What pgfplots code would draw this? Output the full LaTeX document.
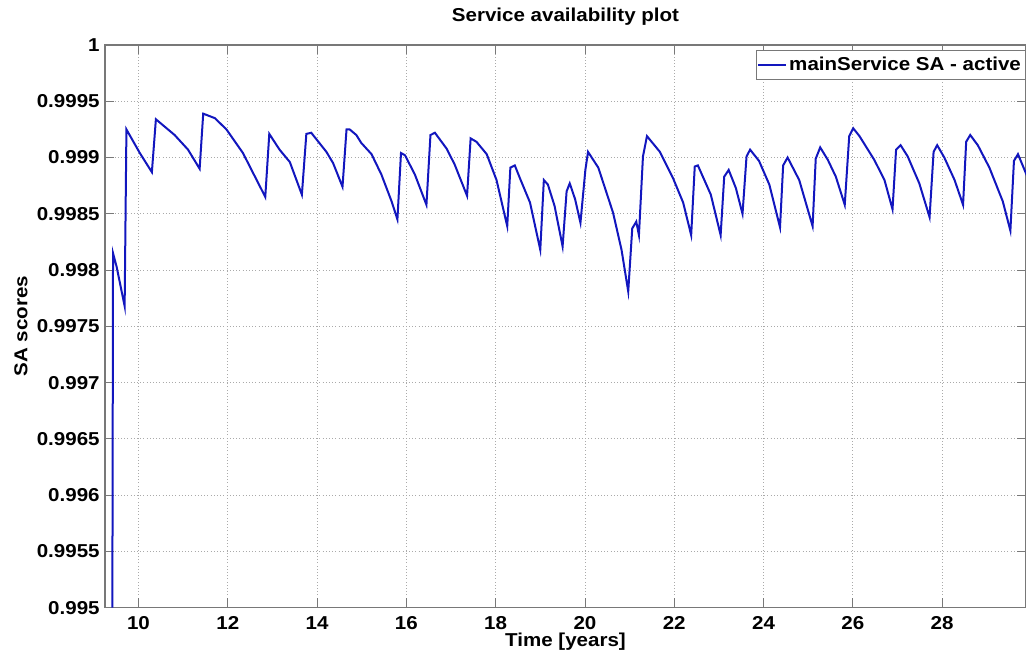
\documentclass[border=0pt]{standalone}
\usepackage{fontspec}
\setmainfont{Liberation Sans}[FakeStretch=1.1]
\usepackage{pgfplots}
\pgfplotsset{compat=1.18}
\definecolor{saBlue}{RGB}{18,22,190}
\definecolor{axGray}{RGB}{120,120,120}
\definecolor{gridGray}{RGB}{170,170,170}
\newcommand{\lblfont}{\fontsize{14}{17}\selectfont\bfseries}
\begin{document}
\begin{tikzpicture}
\begin{axis}[
  scale only axis,
  width=690.75pt, height=422pt,
  xmin=9.25, xmax=29.88,
  ymin=0.995, ymax=1,
  xtick={10,12,...,28},
  ytick={0.995,0.9955,0.996,0.9965,0.997,0.9975,0.998,0.9985,0.999,0.9995,1},
  yticklabels={0.995,0.9955,0.996,0.9965,0.997,0.9975,0.998,0.9985,0.999,0.9995,1},
  /pgf/number format/assume math mode=true,
  tick align=inside,
  major tick length=7pt,
  tick style={axGray, line width=0.6pt},
  axis line style={axGray, line width=0.8pt},
  grid=major,
  major grid style={gridGray, dotted, line width=0.6pt},
  font=\lblfont,
  ticklabel style={font=\lblfont},
  xticklabel style={yshift=-3pt},
  yticklabel style={xshift=-0.5pt},
  title={Service availability plot},
  title style={at={(0.5,1)}, anchor=base, yshift=11.5pt},
  xlabel={Time [years]},
  xlabel style={at={(0.5,0)}, anchor=base, yshift=-29pt},
  ylabel={SA scores},
  ylabel style={at={(0,0.5)}, anchor=center, yshift=63pt},
  legend style={at={(1,1)}, anchor=north east, xshift=-0.5pt, yshift=-3.75pt,
    draw=axGray, line width=0.6pt, inner xsep=1pt, inner ysep=3pt,
    font=\lblfont},
  legend cell align=left,
  legend image code/.code={\draw[#1] (0cm,0cm) -- (0.72cm,0cm);},
]
\addplot[saBlue, line width=1.5pt] coordinates {
(9.415,0.9950)(9.43,0.99815)(9.51,0.99803)(9.69,0.99768)(9.73,0.99925)
(10.03,0.99904)(10.30,0.99887)(10.39,0.99934)(10.81,0.99920)(11.11,0.99907)
(11.37,0.99890)(11.45,0.99939)(11.71,0.99935)(11.97,0.99925)(12.34,0.99904)
(12.84,0.99865)(12.93,0.99921)(13.16,0.99907)(13.39,0.99896)(13.66,0.99867)
(13.76,0.99921)(13.87,0.99922)(14.21,0.99905)(14.36,0.99895)(14.57,0.99874)
(14.66,0.99925)(14.73,0.99925)(14.88,0.99920)(14.99,0.99913)(15.22,0.99903)
(15.44,0.99885)(15.67,0.99861)(15.80,0.99845)(15.88,0.99904)(15.97,0.99902)
(16.19,0.99885)(16.45,0.99858)(16.54,0.99920)(16.64,0.99922)(16.90,0.99908)
(17.08,0.99894)(17.36,0.99866)(17.44,0.99917)(17.57,0.99914)(17.80,0.99903)
(18.02,0.99880)(18.26,0.99839)(18.33,0.99891)(18.43,0.99893)(18.54,0.99882)
(18.77,0.99860)(19.00,0.99818)(19.08,0.99880)(19.17,0.99876)(19.32,0.99857)
(19.50,0.99821)(19.59,0.99870)(19.66,0.99877)(19.78,0.99863)(19.90,0.99842)
(20.01,0.99889)(20.07,0.99905)(20.30,0.99891)(20.63,0.99851)(20.82,0.99818)
(20.97,0.99781)(21.06,0.99837)(21.15,0.99843)(21.21,0.99831)(21.30,0.99901)
(21.39,0.99919)(21.68,0.99905)(21.97,0.99882)(22.20,0.99860)(22.38,0.99831)
(22.46,0.99892)(22.53,0.99893)(22.82,0.99867)(23.04,0.99831)(23.12,0.99883)
(23.22,0.99889)(23.38,0.99873)(23.53,0.99850)(23.62,0.99901)(23.70,0.99907)
(23.90,0.99897)(24.13,0.99876)(24.37,0.99838)(24.44,0.99893)(24.54,0.99900)
(24.80,0.99880)(25.10,0.99839)(25.17,0.99899)(25.27,0.99909)(25.44,0.99898)
(25.62,0.99883)(25.82,0.99858)(25.92,0.99919)(26.01,0.99926)(26.15,0.99919)
(26.48,0.99898)(26.71,0.99880)(26.89,0.99854)(26.97,0.99907)(27.07,0.99911)
(27.23,0.99901)(27.49,0.99877)(27.72,0.99847)(27.81,0.99905)(27.89,0.99911)
(28.05,0.99900)(28.28,0.99880)(28.47,0.99858)(28.54,0.99914)(28.63,0.99920)
(28.80,0.99911)(29.06,0.99891)(29.36,0.99861)(29.53,0.99835)(29.61,0.99897)
(29.70,0.99903)(29.91,0.99883)
};
\addlegendentry{mainService SA - active}
\coordinate (sw) at (rel axis cs:0,0);
\coordinate (ne) at (rel axis cs:1,1);
\end{axis}
\pgfresetboundingbox
\path (sw) ++(-78.75pt,-34pt) coordinate (bbsw);
\path (ne) ++(0pt,33.75pt) coordinate (bbne);
\path (bbsw) rectangle (bbne);
\end{tikzpicture}
\end{document}
